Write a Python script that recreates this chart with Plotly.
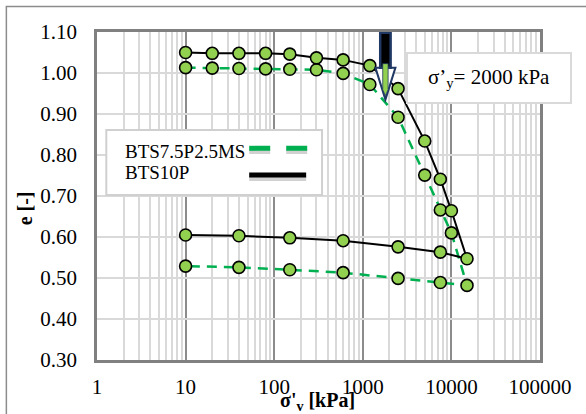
import plotly.graph_objects as go

# ---- data ----
stress = [10, 20, 40, 80, 150, 300, 600, 1200, 2500, 5000, 7500, 10000, 15000,
          7500, 2500, 600, 150, 40, 10]
e_bts10p = [1.050, 1.048, 1.048, 1.048, 1.046, 1.037, 1.032, 1.018, 0.962, 0.834,
            0.741, 0.664, 0.547, 0.563, 0.576, 0.591, 0.598, 0.603, 0.605]
e_bts75 = [1.013, 1.012, 1.011, 1.010, 1.009, 1.008, 0.999, 0.972, 0.892, 0.751,
           0.666, 0.610, 0.482, 0.489, 0.499, 0.513, 0.520, 0.526, 0.529]
series_names = ["BTS7.5P2.5MS", "BTS10P"]
x_ticks = [1, 10, 100, 1000, 10000, 100000]
y_ticks = [0.30, 0.40, 0.50, 0.60, 0.70, 0.80, 0.90, 1.00, 1.10]
sigma_y = 1800          # arrow position (kPa)
sigma_y_e = 0.935       # arrow tip (e)
sigma_y_label = "σ’<sub>y</sub>= 2000 kPa"

FONT = "Liberation Serif"
GREEN_FILL = "#92D050"
GREEN_LINE = "#00B050"

fig = go.Figure()
fig.add_trace(go.Scatter(
    x=stress, y=e_bts75, mode="lines+markers", name=series_names[0],
    line=dict(color=GREEN_LINE, width=2.5, dash="10px,7px"),
    marker=dict(size=12, color=GREEN_FILL, line=dict(color="black", width=1.6)),
))
fig.add_trace(go.Scatter(
    x=stress, y=e_bts10p, mode="lines+markers", name=series_names[1],
    line=dict(color="black", width=2),
    marker=dict(size=12, color=GREEN_FILL, line=dict(color="black", width=1.6)),
))


def px2x(px):
    return (px - 96.7) / 443.3


def px2y(py):
    return (360 - py) / 328


shapes = []
# outer chart border
shapes.append(dict(type="rect", xref="paper", yref="paper", x0=-0.2046, x1=1.2, y0=-0.3, y1=1.078,
                   line=dict(color="#8c8c8c", width=1.5), fillcolor="rgba(0,0,0,0)", layer="below"))
# arrow (pixel-sized, anchored at sigma_y)
common = dict(xref="x", yref="y", xsizemode="pixel", ysizemode="pixel",
              xanchor=sigma_y, yanchor=sigma_y_e, layer="above")
shapes.append(dict(type="path", path="M -10,32 L 10,32 L 0,0 Z",
                   fillcolor="white", line=dict(color="#203864", width=2), **common))
shapes.append(dict(type="path", path="M -5.2,32 L -5.2,67 L 5.2,67 L 5.2,32 Z",
                   fillcolor="black", line=dict(color="#203864", width=2.5), **common))
shapes.append(dict(type="path", path="M -2.7,36 L 2.7,36 L 2.7,10 L 0,4 L -2.7,10 Z",
                   fillcolor=GREEN_FILL, line=dict(color="#203864", width=0.8), **common))
# custom legend box
shapes.append(dict(type="rect", xref="paper", yref="paper", x0=0.021, x1=0.508, y0=0.503, y1=0.701,
                   line=dict(color="#d0d0d0", width=2), fillcolor="white", layer="above"))
# legend line samples (with soft shadow)
shapes.append(dict(type="line", xref="paper", yref="paper", x0=px2x(249), x1=px2x(308),
                   y0=px2y(151.5), y1=px2y(151.5),
                   line=dict(color="rgba(0,0,0,0.18)", width=5, dash="21px,16px"), layer="above"))
shapes.append(dict(type="line", xref="paper", yref="paper", x0=px2x(249), x1=px2x(308),
                   y0=px2y(148.3), y1=px2y(148.3),
                   line=dict(color=GREEN_LINE, width=5, dash="21px,16px"), layer="above"))
shapes.append(dict(type="line", xref="paper", yref="paper", x0=px2x(249), x1=px2x(306),
                   y0=px2y(178.5), y1=px2y(178.5),
                   line=dict(color="rgba(0,0,0,0.18)", width=5), layer="above"))
shapes.append(dict(type="line", xref="paper", yref="paper", x0=px2x(249), x1=px2x(306),
                   y0=px2y(175), y1=px2y(175),
                   line=dict(color="black", width=5), layer="above"))

annotations = [
    dict(text=series_names[0], xref="paper", yref="paper", x=px2x(123), y=px2y(151),
         xanchor="left", yanchor="middle", showarrow=False,
         font=dict(family=FONT, size=19, color="black")),
    dict(text=series_names[1], xref="paper", yref="paper", x=px2x(123), y=px2y(172),
         xanchor="left", yanchor="middle", showarrow=False,
         font=dict(family=FONT, size=19, color="black")),
    dict(text=sigma_y_label, xref="paper", yref="paper", x=px2x(489), y=px2y(78),
         xanchor="center", yanchor="middle", showarrow=False,
         bgcolor="white", bordercolor="#d9d9d9", borderwidth=2, width=160, height=46,
         font=dict(family=FONT, size=21, color="black")),
    dict(text="<b>σ'<sub>v</sub> [kPa]</b>", xref="paper", yref="paper", x=px2x(317), y=px2y(401),
         xanchor="center", yanchor="middle", showarrow=False,
         font=dict(family=FONT, size=20, color="black")),
    dict(text="<b>e [-]</b>", xref="paper", yref="paper", x=px2x(25), y=px2y(208),
         xanchor="center", yanchor="middle", showarrow=False, textangle=-90,
         font=dict(family=FONT, size=20, color="black")),
]

fig.update_layout(
    width=586, height=414,
    margin=dict(l=97, r=46, t=32, b=54),
    paper_bgcolor="white", plot_bgcolor="white",
    showlegend=False,
    shapes=shapes, annotations=annotations,
    font=dict(family=FONT, size=21, color="black"),
    xaxis=dict(type="log", range=[0, 5], tickvals=x_ticks, ticktext=[str(v) for v in x_ticks],
               showgrid=True, gridcolor="#8c8c8c", gridwidth=1.6,
               minor=dict(showgrid=True, gridcolor="#d9d9d9", gridwidth=1.8, dtick="D1"),
               showline=True, linecolor="#808080", linewidth=2.5, mirror=True,
               ticks="", ticklabelstandoff=6, zeroline=False,
               tickfont=dict(family=FONT, size=21, color="black")),
    yaxis=dict(range=[0.3, 1.1], tickvals=y_ticks, ticktext=[f"{v:.2f}" for v in y_ticks],
               showgrid=True, gridcolor="#d9d9d9", gridwidth=1.8,
               showline=True, linecolor="#808080", linewidth=2.5, mirror=True,
               ticks="", ticklabelstandoff=13, zeroline=False,
               tickfont=dict(family=FONT, size=21, color="black")),
)

fig.write_html("out.html")
